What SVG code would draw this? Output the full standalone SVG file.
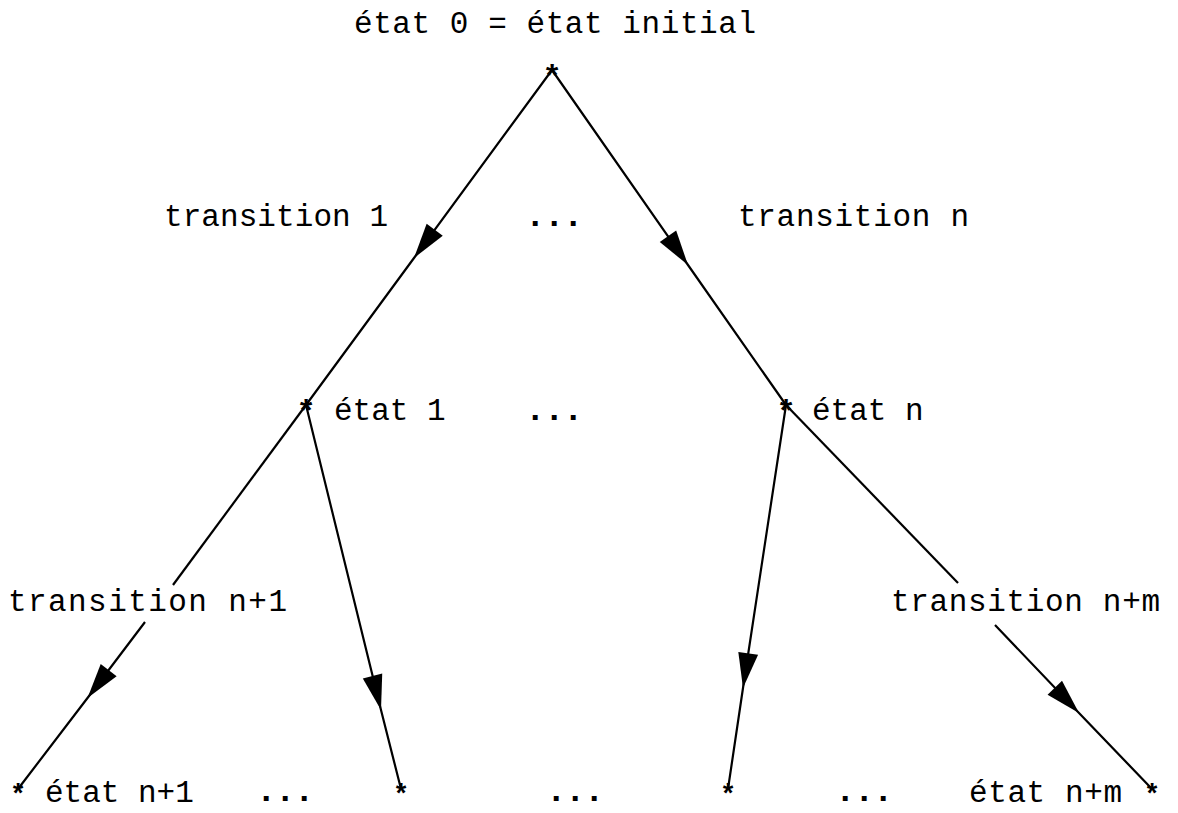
<svg xmlns="http://www.w3.org/2000/svg" width="1178" height="813" viewBox="0 0 1178 813">
<style>
  text { font-family: "Liberation Mono", "Courier New", monospace; font-size: 31px; fill: #000; }
  .dots { font-weight: bold; font-size: 34px; letter-spacing: -1.4px; }
  .star { font-size: 32px; font-weight: bold; text-anchor: middle; }
  .star-b { font-size: 27px; font-weight: bold; text-anchor: middle; }
  .edge { fill: none; stroke: #000; stroke-width: 2.2; marker-mid: url(#arrow); }
  .plain { fill: none; stroke: #000; stroke-width: 2.2; }
</style>
<defs>
  <marker id="arrow" markerUnits="userSpaceOnUse" markerWidth="40" markerHeight="30" viewBox="-30 -12 32 24" refX="0" refY="0" orient="auto">
    <path d="M0,0 L-28,-8 L-28,8 Z" fill="#000"/>
  </marker>
</defs>
<rect width="1178" height="813" fill="#fff"/>

<g id="connectors">
  <path class="edge" d="M552,70 L414,258 L306,405"/>
  <path class="edge" d="M552,70 L688,265 L786,405"/>
  <path class="plain" d="M306,405 L173,585"/>
  <path class="edge" d="M145,622 L87.5,698 L18,789"/>
  <path class="edge" d="M306,405 L381,710 L401,789"/>
  <path class="edge" d="M786,405 L743,688 L728,789"/>
  <path class="plain" d="M786,405 L958,583"/>
  <path class="edge" d="M995,625 L1079,713 L1152,789"/>
</g>

<g id="state0">
  <text x="354" y="33" textLength="402" lengthAdjust="spacing">état 0 = état initial</text>
  <text class="star" x="552" y="87">*</text>
</g>

<g id="label-transition1"><text x="164" y="226" textLength="224" lengthAdjust="spacing">transition 1</text></g>
<g id="label-dots-top"><text class="dots" x="525" y="226">...</text></g>
<g id="label-transitionn"><text x="738" y="226" textLength="231" lengthAdjust="spacing">transition n</text></g>

<g id="state1">
  <text class="star" x="306" y="422">*</text>
  <text x="334" y="420">état 1</text>
</g>
<g id="label-dots-mid"><text class="dots" x="525" y="420">...</text></g>
<g id="staten">
  <text class="star" x="786" y="422">*</text>
  <text x="812" y="420">état n</text>
</g>

<g id="label-transitionn1"><text x="8" y="611" textLength="279" lengthAdjust="spacing">transition n+1</text></g>
<g id="label-transitionnm"><text x="891" y="611" textLength="269" lengthAdjust="spacing">transition n+m</text></g>

<g id="staten1">
  <text class="star-b" x="18" y="803">*</text>
  <text x="45" y="802">état n+1</text>
</g>
<g id="label-dots-b1"><text class="dots" x="256" y="801">...</text></g>
<g id="state-b2"><text class="star-b" x="401" y="803">*</text></g>
<g id="label-dots-b2"><text class="dots" x="546" y="801">...</text></g>
<g id="state-b3"><text class="star-b" x="728" y="803">*</text></g>
<g id="label-dots-b3"><text class="dots" x="835" y="801">...</text></g>
<g id="statenm">
  <text x="969" y="802" textLength="153" lengthAdjust="spacing">état n+m</text>
  <text class="star-b" x="1152" y="803">*</text>
</g>
</svg>
